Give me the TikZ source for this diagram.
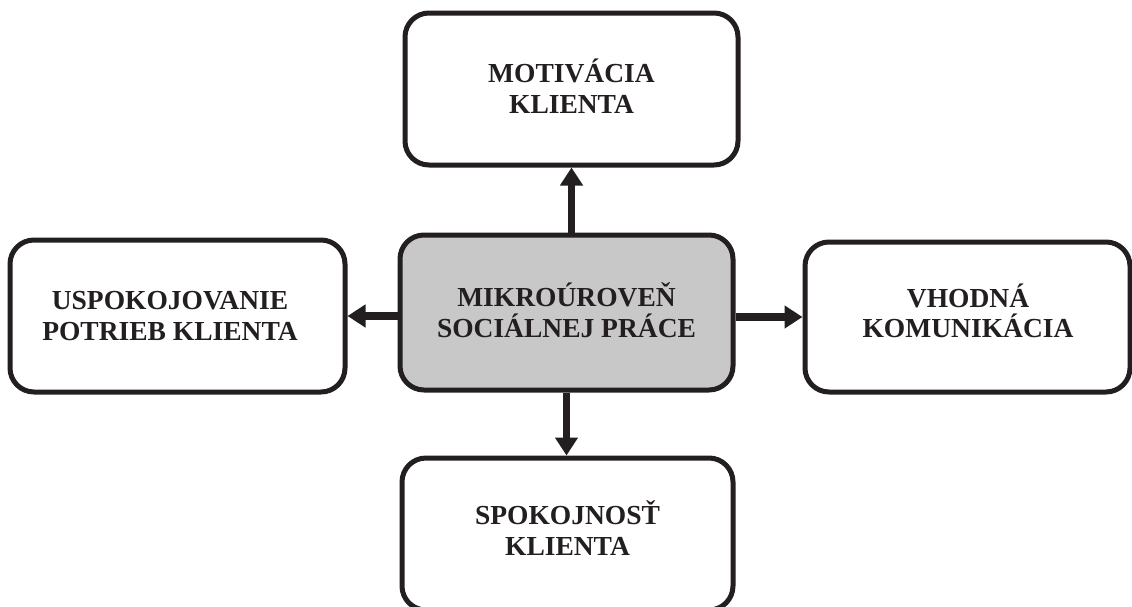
\documentclass[tikz,border=0pt]{standalone}
\usepackage{fontspec}
\setmainfont{Liberation Serif}
\usetikzlibrary{arrows.meta}
\definecolor{boxgray}{RGB}{200,200,200}
\definecolor{ink}{RGB}{35,31,32}
\tikzset{
  box/.style={draw=ink, line width=5pt, rounded corners=24pt, fill=white, inner sep=0pt},
  lbl/.style={align=center, font=\fontsize{27.5}{30.5}\selectfont\bfseries, text=ink},
  arr/.style={line width=7.5pt, -{Triangle[width=22pt,length=18pt]}, draw=ink}
}
\begin{document}
\begin{tikzpicture}[x=1pt,y=-1pt]
\useasboundingbox (0,0) rectangle (1132,606);
\node[box, minimum width=333pt, minimum height=152pt] (t) at (571.5,89) {};
\node[box, minimum width=335pt, minimum height=152pt] (l) at (177.5,316) {};
\node[box, minimum width=325pt, minimum height=150pt] (r) at (967.5,317) {};
\node[box, fill=boxgray, minimum width=333pt, minimum height=155pt] (c) at (566.5,312.5) {};
\node[box, minimum width=331pt, minimum height=152pt] (b) at (567.5,534) {};
\node[lbl] (tt) at (571.5,86) {MOTIVÁCIA\\KLIENTA};
\node[lbl] (lt) at (170,316) {USPOKOJOVANIE\\POTRIEB KLIENTA};
\node[lbl] (rt) at (968,311) {VHODNÁ\\KOMUNIKÁCIA};
\node[lbl] (ct) at (566.5,310) {MIKROÚROVEŇ\\SOCIÁLNEJ PRÁCE};
\node[lbl] (bt) at (567.5,528) {SPOKOJNOSŤ\\KLIENTA};
\draw[arr] (c.north -| t.south) -- (t.south);
\draw[arr] (c.west |- l.east) -- (l.east);
\draw[arr] (c.east |- r.west) -- (r.west);
\draw[arr] (c.south) -- (c.south |- b.north);
\end{tikzpicture}
\end{document}
